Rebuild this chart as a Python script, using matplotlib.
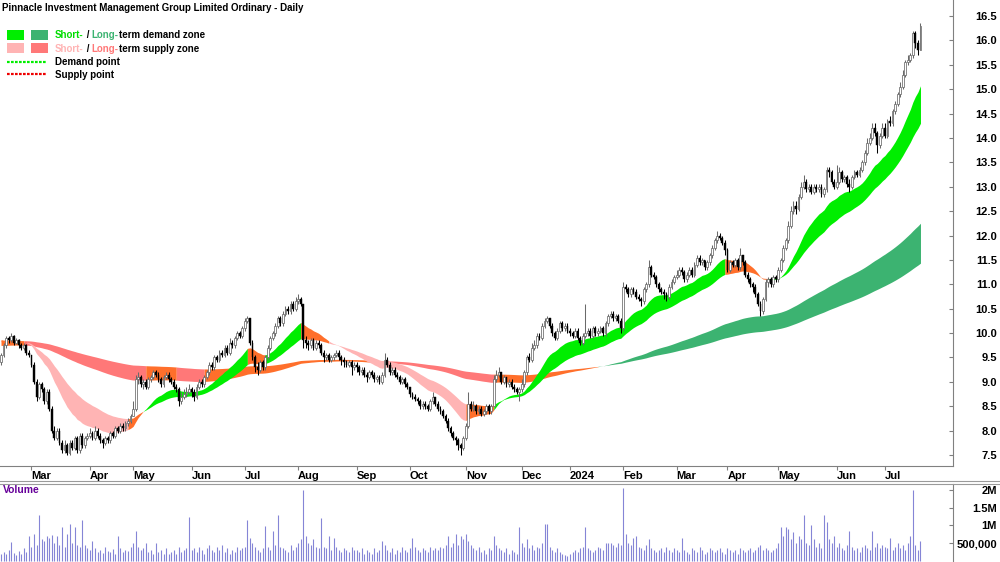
import numpy as np
import pandas as pd
import matplotlib
matplotlib.use('Agg')
import matplotlib.pyplot as plt
from matplotlib.patches import Rectangle
from matplotlib.lines import Line2D
from matplotlib.offsetbox import TextArea, HPacker, AnnotationBbox

plt.rcParams['font.family'] = ['Liberation Sans', 'DejaVu Sans']
plt.rcParams['font.weight'] = 'bold'

W, H = 1000, 562

# trading days shown: 13 Feb 2023 .. 19 Jul 2024 (ASX holidays removed)
holidays = ['2023-04-07', '2023-04-10', '2023-04-25', '2023-06-12', '2023-12-25',
            '2023-12-26', '2024-01-01', '2024-01-26', '2024-03-29', '2024-04-01',
            '2024-04-25', '2024-06-10']
dates = pd.bdate_range('2023-02-13', '2024-07-19')
dates = dates[~dates.isin(pd.to_datetime(holidays))]

first_open = 9.40
closes = [
    9.55, 9.75, 9.9, 9.85, 9.95, 9.8, 9.85, 9.75, 9.7, 9.75, 9.6, 9.55,  # Feb 23
    9.35, 9.0, 8.7, 8.95, 8.85, 8.6, 8.8, 8.45, 8.0, 7.85, 8.0, 7.75, 7.6, 7.7, 7.55, 7.75,
    7.65, 7.85, 7.6, 7.9, 7.7, 7.85, 7.9,  # Mar
    7.95, 7.85, 8.0, 7.9, 7.8, 7.75, 7.85, 7.8, 7.95, 7.9, 8.05, 8.0, 8.1, 8.05, 8.15, 8.2, 8.3,  # Apr
    8.45, 9.05, 9.1, 8.95, 9.0, 8.9, 9.05, 9.1, 9.2, 9.15, 9.05, 8.95, 9.1, 9.15, 9.05, 9.0,
    8.9, 8.85, 8.6, 8.7, 8.75, 8.8, 8.85,  # May
    8.8, 8.7, 8.9, 9.0, 8.95, 9.1, 9.2, 9.35, 9.3, 9.5, 9.45, 9.6, 9.55, 9.7, 9.6, 9.8, 9.75,
    9.9, 10.0, 9.95, 10.1,  # Jun
    10.25, 10.3, 9.8, 9.5, 9.3, 9.25, 9.4, 9.3, 9.5, 9.7, 9.9, 10.0, 10.15, 10.3, 10.2, 10.4,
    10.5, 10.45, 10.6, 10.5, 10.65,  # Jul
    10.7, 10.6, 9.85, 9.8, 9.75, 9.85, 9.7, 9.8, 9.75, 9.6, 9.5, 9.55, 9.45, 9.5, 9.55, 9.6,
    9.5, 9.45, 9.4, 9.35, 9.4, 9.3, 9.35,  # Aug
    9.3, 9.2, 9.25, 9.15, 9.1, 9.2, 9.15, 9.05, 9.1, 9.0, 9.15, 9.45, 9.35, 9.2, 9.25, 9.15,
    9.1, 9.0, 9.05, 8.95, 8.9,  # Sep
    8.75, 8.7, 8.65, 8.6, 8.5, 8.55, 8.5, 8.45, 8.6, 8.7, 8.55, 8.45, 8.4, 8.3, 8.2, 8.05,
    7.95, 7.85, 7.8, 7.7, 7.65, 7.85,  # Oct
    8.1, 8.55, 8.45, 8.5, 8.4, 8.45, 8.35, 8.4, 8.5, 8.4, 8.5, 9.05, 9.15, 9.2, 9.0, 9.1,
    8.95, 9.0, 8.9, 8.85, 8.8, 8.85,  # Nov
    8.95, 9.2, 9.5, 9.45, 9.7, 9.75, 9.95, 9.9, 10.15, 10.25, 10.3, 10.15, 10.0, 9.9, 10.05,
    10.2, 10.1, 10.15, 10.05,  # Dec
    10.0, 9.95, 10.05, 9.9, 9.8, 9.95, 10.0, 10.05, 9.95, 10.1, 10.0, 10.05, 10.1, 10.0, 10.2,
    10.35, 10.4, 10.3, 10.35, 10.25, 10.1,  # Jan 24
    10.95, 10.9, 10.8, 10.9, 10.85, 10.75, 10.7, 10.65, 10.9, 11.0, 11.35, 11.2, 11.15, 11.0,
    10.9, 10.85, 10.8, 10.75, 10.95, 11.05, 11.15,  # Feb
    11.2, 11.3, 11.25, 11.1, 11.2, 11.3, 11.2, 11.4, 11.55, 11.45, 11.5, 11.35, 11.45, 11.6,
    11.75, 11.9, 12.0, 11.95, 11.85, 11.7,  # Mar
    11.3, 11.45, 11.4, 11.5, 11.35, 11.6, 11.45, 11.2, 11.1, 11.0, 10.95, 10.8, 10.6, 10.45,
    10.7, 11.05, 11.1, 11.0, 11.15, 11.1,  # Apr
    11.3, 11.5, 11.75, 11.9, 12.2, 12.5, 12.6, 12.55, 12.8, 13.0, 13.1, 12.95, 13.0, 12.9,
    13.0, 12.95, 13.0, 12.85, 12.95, 13.35, 13.3, 13.1, 13.0,  # May
    13.1, 13.3, 13.15, 13.2, 13.05, 13.0, 13.2, 13.3, 13.25, 13.35, 13.5, 13.7, 13.9, 14.0,
    14.2, 14.1, 13.85, 14.05, 14.2,  # Jun
    14.05, 14.35, 14.3, 14.55, 14.7, 14.9, 15.05, 15.3, 15.55, 15.6, 15.7, 16.15, 15.95,
    15.8, 16.3,  # Jul
]
highs = [
    9.6, 9.8, 9.95, 9.95, 10.0, 9.97, 9.9, 9.88, 9.8, 9.8, 9.78, 9.65,
    9.55, 9.4, 9.05, 9.0, 9.0, 8.9, 8.85, 8.85, 8.5, 8.1, 8.05, 8.05, 7.8, 7.8, 7.75, 7.8,
    7.8, 7.9, 7.9, 7.95, 7.95, 7.9, 7.95,
    8.05, 8.0, 8.1, 8.05, 7.95, 7.85, 7.9, 7.9, 8.0, 8.0, 8.1, 8.1, 8.15, 8.15, 8.2, 8.25, 8.35,
    8.6, 9.15, 9.2, 9.15, 9.05, 9.05, 9.1, 9.15, 9.25, 9.25, 9.2, 9.1, 9.15, 9.2, 9.2, 9.1,
    9.05, 8.95, 8.9, 8.8, 8.85, 8.9, 8.95,
    8.9, 8.85, 8.95, 9.05, 9.05, 9.15, 9.25, 9.4, 9.4, 9.55, 9.55, 9.65, 9.65, 9.75, 9.75,
    9.9, 9.85, 9.95, 10.05, 10.05, 10.15,
    10.3, 10.35, 10.3, 9.85, 9.55, 9.4, 9.45, 9.45, 9.55, 9.75, 9.95, 10.05, 10.2, 10.35,
    10.35, 10.45, 10.55, 10.55, 10.65, 10.65, 10.75,
    10.8, 10.75, 10.0, 9.95, 9.85, 9.9, 9.9, 9.85, 9.85, 9.8, 9.65, 9.6, 9.6, 9.55, 9.6, 9.65,
    9.65, 9.55, 9.5, 9.45, 9.45, 9.45, 9.4,
    9.4, 9.35, 9.3, 9.3, 9.2, 9.25, 9.25, 9.2, 9.15, 9.15, 9.2, 9.6, 9.5, 9.4, 9.3, 9.3,
    9.2, 9.15, 9.1, 9.1, 9.0,
    8.9, 8.8, 8.75, 8.7, 8.65, 8.6, 8.6, 8.55, 8.65, 8.8, 8.7, 8.6, 8.5, 8.45, 8.35, 8.25,
    8.1, 8.0, 7.9, 7.85, 7.75, 7.9,
    8.15, 8.8, 8.6, 8.6, 8.55, 8.5, 8.5, 8.45, 8.55, 8.55, 8.55, 9.15, 9.25, 9.3, 9.2, 9.15,
    9.1, 9.05, 9.05, 8.95, 8.9, 8.9,
    9.05, 9.25, 9.55, 9.6, 9.8, 9.85, 10.0, 10.0, 10.2, 10.3, 10.35, 10.3, 10.2, 10.05, 10.1,
    10.25, 10.25, 10.2, 10.2,
    10.1, 10.05, 10.1, 10.1, 9.95, 10.0, 10.6, 10.1, 10.1, 10.15, 10.15, 10.1, 10.15, 10.15,
    10.25, 10.4, 10.45, 10.45, 10.4, 10.4, 10.3,
    11.05, 11.0, 10.95, 10.95, 10.95, 10.9, 10.8, 10.75, 10.95, 11.05, 11.5, 11.4, 11.25,
    11.2, 11.05, 10.95, 10.9, 10.85, 11.0, 11.1, 11.2,
    11.3, 11.35, 11.35, 11.3, 11.25, 11.35, 11.35, 11.45, 11.6, 11.6, 11.55, 11.5, 11.5,
    11.65, 11.8, 11.95, 12.1, 12.05, 12.0, 11.9,
    11.75, 11.5, 11.5, 11.55, 11.55, 11.75, 11.6, 11.5, 11.25, 11.15, 11.05, 11.0, 10.85,
    10.65, 10.75, 11.1, 11.15, 11.15, 11.2, 11.2,
    11.35, 11.55, 11.8, 11.95, 12.3, 12.6, 12.7, 12.7, 12.85, 13.1, 13.25, 13.15, 13.05,
    13.05, 13.05, 13.05, 13.05, 13.05, 13.0, 13.4, 13.4, 13.35, 13.15,
    13.45, 13.4, 13.35, 13.25, 13.25, 13.15, 13.25, 13.35, 13.35, 13.4, 13.55, 13.75, 14.0,
    14.1, 14.3, 14.3, 14.15, 14.1, 14.3,
    14.3, 14.4, 14.45, 14.6, 14.75, 14.95, 15.15, 15.4, 15.6, 15.7, 15.75, 16.2, 16.2, 16.0, 16.35,
]
lows = [
    9.35, 9.5, 9.7, 9.8, 9.82, 9.75, 9.78, 9.7, 9.65, 9.65, 9.55, 9.5,
    9.3, 8.95, 8.6, 8.65, 8.8, 8.55, 8.55, 8.4, 7.95, 7.8, 7.8, 7.7, 7.55, 7.55, 7.5, 7.5,
    7.6, 7.6, 7.55, 7.55, 7.65, 7.65, 7.8,
    7.85, 7.8, 7.8, 7.85, 7.75, 7.65, 7.7, 7.75, 7.75, 7.85, 7.85, 7.95, 7.95, 8.0, 8.0, 8.1, 8.15,
    8.3, 8.4, 8.95, 8.9, 8.85, 8.85, 8.85, 9.0, 9.05, 9.1, 9.0, 8.9, 8.9, 9.05, 9.0, 8.95,
    8.85, 8.8, 8.5, 8.55, 8.65, 8.7, 8.75,
    8.7, 8.6, 8.65, 8.85, 8.9, 8.9, 9.05, 9.15, 9.25, 9.25, 9.4, 9.4, 9.5, 9.5, 9.55, 9.55,
    9.7, 9.7, 9.85, 9.9, 9.9,
    10.05, 10.2, 9.75, 9.45, 9.2, 9.15, 9.2, 9.25, 9.25, 9.45, 9.65, 9.85, 9.95, 10.1, 10.15,
    10.15, 10.35, 10.4, 10.4, 10.45, 10.45,
    10.6, 10.55, 9.7, 9.7, 9.65, 9.7, 9.65, 9.65, 9.7, 9.55, 9.4, 9.45, 9.4, 9.4, 9.45, 9.5,
    9.45, 9.35, 9.3, 9.3, 9.3, 9.15, 9.25,
    9.2, 9.15, 9.15, 9.1, 9.0, 9.05, 9.1, 9.0, 9.0, 8.95, 8.95, 9.1, 9.3, 9.15, 9.15, 9.1,
    9.05, 8.95, 8.95, 8.9, 8.85,
    8.7, 8.65, 8.6, 8.55, 8.45, 8.45, 8.45, 8.4, 8.4, 8.55, 8.5, 8.4, 8.35, 8.25, 8.15, 8.0,
    7.9, 7.8, 7.7, 7.6, 7.5, 7.6,
    7.8, 8.05, 8.4, 8.4, 8.35, 8.35, 8.3, 8.3, 8.35, 8.35, 8.35, 8.5, 9.0, 9.1, 8.95, 8.95,
    8.9, 8.9, 8.85, 8.8, 8.75, 8.6,
    8.8, 8.9, 9.15, 9.4, 9.4, 9.65, 9.7, 9.85, 9.85, 10.1, 10.2, 10.1, 9.95, 9.85, 9.85,
    10.0, 10.05, 10.05, 10.0,
    9.95, 9.9, 9.9, 9.85, 9.75, 9.75, 9.9, 9.95, 9.9, 9.9, 9.95, 9.95, 10.0, 9.95, 9.95,
    10.15, 10.3, 10.25, 10.25, 10.2, 10.0,
    10.05, 10.85, 10.75, 10.75, 10.8, 10.7, 10.65, 10.55, 10.6, 10.85, 10.95, 11.15, 11.1,
    10.95, 10.85, 10.8, 10.7, 10.65, 10.7, 10.9, 11.0,
    11.1, 11.15, 11.2, 11.05, 11.05, 11.15, 11.15, 11.15, 11.35, 11.4, 11.4, 11.3, 11.3,
    11.4, 11.55, 11.7, 11.85, 11.9, 11.8, 11.6,
    11.25, 11.25, 11.35, 11.35, 11.3, 11.3, 11.4, 11.15, 11.05, 10.95, 10.85, 10.75, 10.55,
    10.35, 10.4, 10.65, 10.95, 10.95, 10.95, 11.05,
    11.05, 11.25, 11.45, 11.7, 11.85, 12.15, 12.45, 12.45, 12.5, 12.75, 12.95, 12.9, 12.9,
    12.85, 12.85, 12.9, 12.9, 12.8, 12.8, 12.9, 13.2, 13.05, 12.95,
    12.95, 13.05, 13.1, 13.1, 13.0, 12.9, 12.95, 13.15, 13.2, 13.2, 13.3, 13.45, 13.65,
    13.85, 13.95, 14.05, 13.7, 13.8, 14.0,
    14.0, 14.0, 14.25, 14.25, 14.5, 14.65, 14.85, 15.0, 15.25, 15.5, 15.55, 15.65, 15.85, 15.7, 15.8,
]
# daily volume, thousands of shares
volume = [
    200, 250, 180, 300, 530, 220, 160, 280, 190, 350, 250, 700,
    400, 750, 450, 1300, 600, 550, 700, 650, 720, 500, 700, 450, 950, 400, 750, 1050, 500,
    950, 450, 400, 1150, 450, 350,
    300, 550, 350, 250, 300, 220, 400, 280, 250, 330, 200, 700, 350, 250, 300, 280, 400,
    500, 850, 400, 300, 350, 500, 250, 300, 200, 500, 250, 300, 200, 350, 180, 250, 300,
    200, 400, 250, 300, 350, 1250,
    300, 350, 250, 400, 300, 200, 350, 450, 300, 250, 400, 300, 450, 250, 350, 200, 300,
    250, 400, 300, 350,
    400, 1150, 650, 500, 400, 300, 250, 350, 980, 400, 300, 850, 450, 1300, 400, 350, 300,
    250, 450, 300, 400,
    500, 600, 2000, 700, 500, 450, 600, 400, 350, 1200, 400, 350, 700, 300, 650, 400, 300,
    250, 350, 300, 250, 400, 300,
    300, 250, 350, 200, 300, 250, 200, 350, 250, 300, 550, 450, 300, 250, 350, 200, 300,
    250, 400, 300, 250,
    350, 650, 400, 300, 250, 350, 300, 250, 400, 300, 350, 300, 400, 350, 450, 700, 400,
    500, 750, 450, 700, 600,
    750, 550, 450, 350, 300, 400, 250, 300, 200, 350, 300, 700, 450, 350, 300, 250, 350,
    200, 300, 250, 200, 950,
    500, 400, 600, 350, 450, 300, 400, 350, 500, 1050, 1050, 400, 300, 250, 350, 250, 200,
    150, 120,
    200, 250, 300, 250, 350, 400, 950, 350, 300, 250, 300, 400, 350, 300, 500, 500, 500,
    450, 400, 500, 450,
    2050, 750, 500, 450, 650, 700, 400, 350, 300, 450, 600, 350, 300, 250, 300, 350, 250,
    400, 300, 250, 350,
    300, 250, 650, 300, 250, 200, 350, 300, 250, 400, 300, 200, 250, 350, 300, 250, 300,
    350, 250, 200,
    350, 300, 250, 300, 200, 350, 300, 250, 300, 350, 250, 300, 400, 450, 300, 350, 300,
    250, 300, 350,
    500, 950, 700, 950, 900, 600, 800, 500, 700, 600, 1300, 500, 450, 1000, 600, 400, 500,
    350, 1300, 1100, 600, 500, 700,
    400, 500, 350, 300, 450, 850, 400, 300, 350, 250, 400, 450, 350, 300, 850, 400, 500,
    350, 450,
    400, 350, 650, 300, 400, 500, 350, 450, 300, 500, 700, 2000, 450, 300, 550,
]

# zone colouring: (first day index, last day index, zone)
short_zone_spans = [(0, 10, 'mixed'), (10, 50, 'supply'), (50, 56, 'mixed'), (56, 97, 'demand'),
                    (97, 104, 'mixed'), (104, 118, 'demand'), (118, 129, 'mixed'),
                    (129, 183, 'supply'), (183, 194, 'mixed'), (194, 285, 'demand'),
                    (285, 302, 'mixed'), (302, 362, 'demand')]
long_zone_spans = [(0, 9, 'mixed'), (9, 57, 'supply'), (57, 69, 'mixed'), (69, 80, 'supply'),
                   (80, 150, 'mixed'), (150, 194, 'supply'), (194, 235, 'mixed'),
                   (235, 362, 'demand')]

assert len(closes) == len(highs) == len(lows) == len(volume) == len(dates)

closes = np.array(closes)
opens = np.concatenate([[first_open], closes[:-1]])
highs = np.maximum(np.array(highs), np.maximum(opens, closes))
lows = np.minimum(np.array(lows), np.minimum(opens, closes))
volume = np.array(volume) * 1000.0
x = np.arange(len(closes))


def ema(values, span, seed):
    a = 2.0 / (span + 1)
    out, prev = [], seed
    for v in values:
        prev = prev + a * (v - prev)
        out.append(prev)
    return np.array(out)


short_fast = ema(closes, 20, 9.9)
short_slow = ema(closes, 40, 9.85)
long_fast = ema(closes, 150, 9.75)
long_slow = ema(closes, 250, 9.85)

ORANGE = '#ff6f2b'
short_cols = {'demand': '#00ee00', 'supply': '#ffb4b4', 'mixed': ORANGE}
long_cols = {'demand': '#3cb371', 'supply': '#ff7878', 'mixed': ORANGE}

fig = plt.figure(figsize=(W / 100, H / 100), dpi=100)
ax = fig.add_axes([0, 1 - 466 / H, 953 / W, 466 / H])
axv = fig.add_axes([0, 0, 953 / W, 78 / H])

for fast, slow, spans, cols in [(long_fast, long_slow, long_zone_spans, long_cols),
                                (short_fast, short_slow, short_zone_spans, short_cols)]:
    lo, hi = np.minimum(fast, slow), np.maximum(fast, slow)
    for s, e, kind in spans:
        ax.fill_between(x[s:e + 1], lo[s:e + 1], hi[s:e + 1], color=cols[kind], lw=0, zorder=2)

# candles
up = closes >= opens
ax.vlines(x[up], lows[up], highs[up], color='#6a6a6a', lw=0.75, zorder=3)
ax.vlines(x[~up], lows[~up], highs[~up], color='black', lw=0.75, zorder=3)
body_lo = np.minimum(opens, closes)
body_h = np.maximum(np.abs(closes - opens), 0.025)
ax.bar(x[up], body_h[up], bottom=body_lo[up], width=0.72, color='white',
       edgecolor='#6a6a6a', lw=0.55, zorder=4)
ax.bar(x[~up], body_h[~up], bottom=body_lo[~up], width=0.72, color='black',
       edgecolor='black', lw=0.3, zorder=4)

xlim = (-1 / 2.54, 952 / 2.54)
ax.set_xlim(*xlim)
ax.set_ylim(7.275, 16.83)
yt = np.arange(7.5, 16.51, 0.5)
ax.set_yticks(yt)
ax.set_yticklabels([f'{v:.1f}' for v in yt])
ax.yaxis.tick_right()
ax.tick_params(axis='y', direction='in', length=3, pad=31.7, labelsize=8, color='#808080')
for lbl in ax.get_yticklabels():
    lbl.set_horizontalalignment('right')

month_pos, month_lab = [], []
for i in range(1, len(dates)):
    if dates[i].month != dates[i - 1].month:
        month_pos.append(i)
        month_lab.append(str(dates[i].year) if dates[i].month == 1 else dates[i].strftime('%b'))
ax.set_xticks(month_pos)
ax.set_xticklabels(month_lab, ha='left')
ax.tick_params(axis='x', direction='out', length=3, pad=0.5, labelsize=8, color='#808080')
for sp in ['left', 'top']:
    ax.spines[sp].set_visible(False)
for sp in ['bottom', 'right']:
    ax.spines[sp].set_color('#808080')
    ax.spines[sp].set_linewidth(0.8)

# volume panel
axv.vlines(x, 0, volume, color='#8585d6', lw=0.8)
axv.set_xlim(*xlim)
axv.set_ylim(-0.037e6, 2.17e6)
axv.set_xticks([])
axv.set_yticks([5e5, 1e6, 1.5e6, 2e6])
axv.set_yticklabels(['500,000', '1M', '1.5M', '2M'])
axv.yaxis.tick_right()
axv.tick_params(axis='y', direction='in', length=3, pad=31.7, labelsize=8, color='#808080')
for lbl in axv.get_yticklabels():
    lbl.set_horizontalalignment('right')
for sp in ['left', 'top', 'bottom']:
    axv.spines[sp].set_visible(False)
axv.spines['right'].set_color('#808080')
axv.spines['right'].set_linewidth(0.8)
fig.text(3 / W, 1 - 490 / H, 'Volume', color='#660099', fontsize=7.5, va='center')

for yy in (481, 483.5):
    fig.add_artist(Line2D([0, 1], [1 - yy / H] * 2, color='#9a9a9a', lw=0.8))

# title and legend
fig.text(2 / W, 1 - 8 / H, 'Pinnacle Investment Management Group Limited Ordinary - Daily',
         fontsize=7, va='center')

for (x0, x1), row_y, col in [((7, 24), 30, '#00ee00'), ((31, 48), 30, '#3cb371'),
                            ((7, 24), 43, '#ffb4b4'), ((31, 48), 43, '#ff7878')]:
    fig.add_artist(Rectangle((x0 / W, 1 - (row_y + 10) / H), (x1 - x0) / W, 10 / H,
                             transform=fig.transFigure, color=col, lw=0))


def legend_text(parts, y):
    box = HPacker(children=[TextArea(s, textprops=dict(color=c, fontsize=7, fontweight='bold'))
                            for s, c in parts], sep=0, pad=0, align='baseline')
    ab = AnnotationBbox(box, (55, H - y), xycoords='figure pixels', box_alignment=(0, 0.5),
                        frameon=False, pad=0, annotation_clip=False)
    ax.add_artist(ab)


legend_text([('Short-', '#00dd00'), (' / ', 'black'), ('Long-', '#3cb371'),
             ('term demand zone', 'black')], 35)
legend_text([('Short-', '#ffb4b4'), (' / ', 'black'), ('Long-', '#ff7878'),
             ('term supply zone', 'black')], 48.5)
legend_text([('Demand point', 'black')], 62)
legend_text([('Supply point', 'black')], 74.5)
for yy, col in [(62, '#00ee00'), (74, '#ee0000')]:
    fig.add_artist(Line2D([7 / W, 47 / W], [1 - yy / H] * 2, color=col, lw=1.6,
                          linestyle=(0, (1.2, 0.6))))

fig.savefig('out.png', dpi=100)
